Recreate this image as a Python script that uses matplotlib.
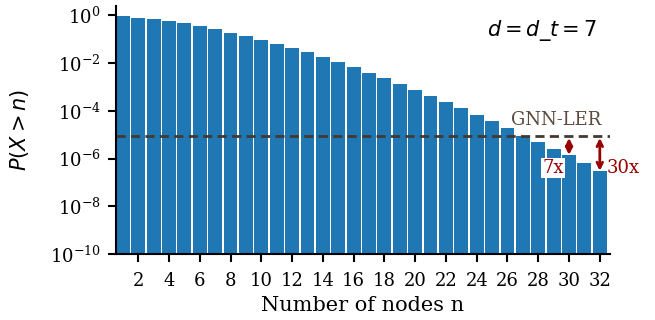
import numpy as np
import matplotlib
matplotlib.use("Agg")
import matplotlib.pyplot as plt

# tail probability P(X > n) for each number of nodes
nodes = np.arange(1, 33)
probs = [0.93, 0.78, 0.70, 0.575, 0.48, 0.355, 0.27, 0.18, 0.138, 0.093,
         0.063, 0.043, 0.0295, 0.018, 0.0112, 0.0069, 0.0039, 0.0024,
         1.35e-3, 7.6e-4, 4.3e-4, 2.4e-4, 1.35e-4, 6.8e-5, 3.8e-5, 1.95e-5,
         9.1e-6, 5.1e-6, 2.4e-6, 1.35e-6, 6.2e-7, 2.9e-7]
gnn_ler = 8.5e-6
xticks = list(range(2, 33, 2))
yticks = [1e-10, 1e-8, 1e-6, 1e-4, 1e-2, 1e0]

plt.rcParams['font.family'] = 'serif'
plt.rcParams['font.serif'] = ['DejaVu Serif']

fig = plt.figure(figsize=(6.55, 3.2), dpi=100)
ax = fig.add_axes([0.177, 0.206, 0.754, 0.775])

ax.bar(nodes, probs, width=0.9, color='#1f77b4', bottom=1e-10)
ax.set_yscale('log')
ax.set_ylim(1e-10, 2.4)
ax.set_xlim(0.55, 32.65)
ax.set_yticks(yticks)
ax.minorticks_off()
ax.set_xticks(xticks)

ax.axhline(gnn_ler, color='#45392f', ls='--', lw=2, dashes=(3.3, 1.9))
ax.text(32.1, gnn_ler * 2.0, 'GNN-LER', color='#5a4a3e', fontsize=13,
        ha='right', va='bottom')

# improvement arrows
red = '#990000'
i30 = nodes.tolist().index(30)
i32 = nodes.tolist().index(32)
ax.annotate('', xy=(30, probs[i30] * 1.05), xytext=(30, gnn_ler * 0.85),
            arrowprops=dict(arrowstyle='<->', color=red, lw=2,
                            shrinkA=0, shrinkB=0))
ax.annotate('', xy=(32, probs[i32] * 1.05), xytext=(32, gnn_ler * 0.85),
            arrowprops=dict(arrowstyle='<->', color=red, lw=2,
                            shrinkA=0, shrinkB=0))
ax.text(29.65, 4.0e-7, '7x', color=red, fontsize=13, ha='right', va='center',
        bbox=dict(facecolor='white', edgecolor='none', pad=1))
ax.text(32.45, 4.0e-7, '30x', color=red, fontsize=13, ha='left', va='center')

ax.text(0.974, 0.903, r'$d = d\_t = 7$', transform=ax.transAxes,
        ha='right', va='center', fontsize=15)

ax.set_xlabel('Number of nodes n', fontsize=15)
ax.set_ylabel(r'$P(X > n)$', fontsize=15)
ax.yaxis.set_label_coords(-0.172, 0.5)
ax.tick_params(labelsize=13, width=1.5, length=6)
ax.tick_params(axis='x', pad=7)
ax.tick_params(axis='y', pad=5)
for s in ['top', 'right']:
    ax.spines[s].set_visible(False)
for s in ['left', 'bottom']:
    ax.spines[s].set_linewidth(1.5)

fig.savefig('out.png', dpi=100)
